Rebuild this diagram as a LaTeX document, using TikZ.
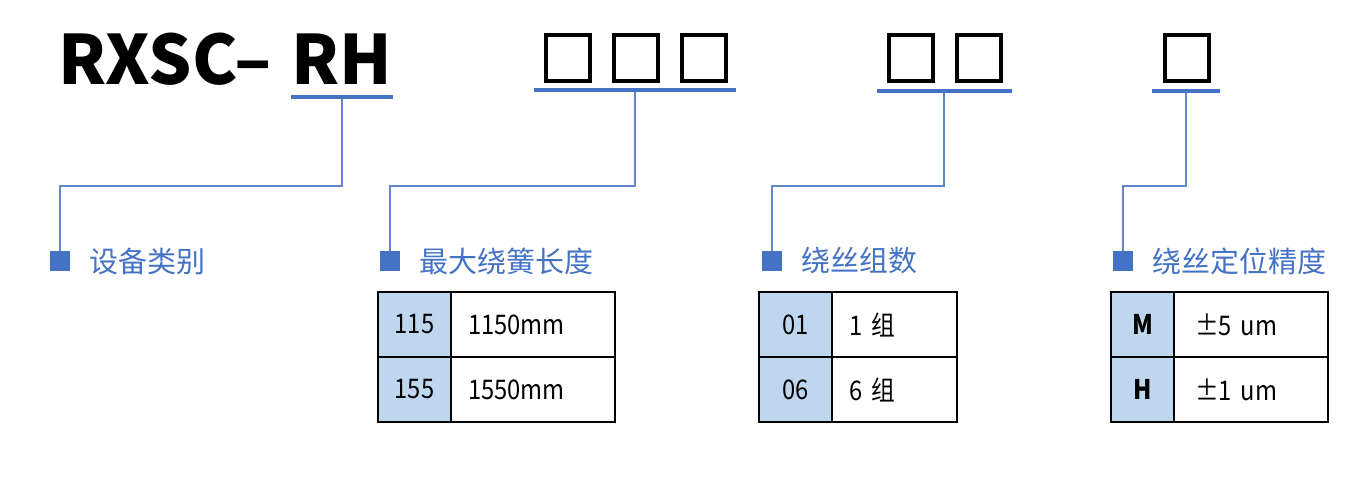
\documentclass[tikz,border=0pt]{standalone}
\usepackage{fontspec}
\usepackage{tikz}
\usetikzlibrary{positioning,calc}
\newfontfamily\cjk{Noto Sans CJK SC}
\newfontfamily\cjknarrow{Noto Sans CJK SC}[FakeStretch=0.88]
\definecolor{ublue}{RGB}{68,114,196}
\definecolor{keyfill}{RGB}{190,215,238}

\begin{document}
\begin{tikzpicture}[
    x=1pt, y=-1pt,
    node distance=0pt,
    sq/.style={draw, line width=4pt, minimum width=44pt, minimum height=46pt},
    uline/.style={fill=ublue, inner sep=0pt, minimum height=3.5pt},
    conn/.style={draw=ublue!85, line width=1.5pt},
    bullet/.style={fill=ublue, minimum size=20pt, inner sep=0pt},
    lbl/.style={text=ublue, font=\cjk\fontsize{29}{32}\selectfont, inner sep=0pt},
    keycell/.style={draw, line width=1.2pt, fill=keyfill, minimum height=65pt, outer sep=0pt, font=\cjknarrow\fontsize{27}{30}\selectfont},
    valcell/.style={draw, line width=1.2pt, minimum height=65pt, outer sep=0pt, align=left, inner xsep=17pt, font=\cjknarrow\fontsize{27}{30}\selectfont}
]
    \useasboundingbox (0,0) rectangle (1369,481);

    % model code
    \node [anchor=base west, inner sep=0pt, font=\cjk\bfseries\fontsize{68}{72}\selectfont] (title) at (58,85) {RXSC–\kern4pt{} RH};
    \node [sq] (s1) at (568,58) {};
    \node [sq, right=20pt of s1] (s2) {};
    \node [sq, right=20pt of s2] (s3) {};
    \node [sq] (s4) at (911,58) {};
    \node [sq, right=20pt of s4] (s5) {};
    \node [sq] (s6) at (1187,58) {};

    % underlines
    \node [uline, minimum width=102pt] (uRH) at (342,97) {};
    \node [uline, minimum width=202pt] (uLen) at (635,90) {};
    \node [uline, minimum width=135pt] (uGrp) at (944,91) {};
    \node [uline, minimum width=68pt] (uAcc) at (1186,91) {};

    % headings
    \node [bullet] (bA) at (60,261) {};
    \node [bullet] (bB) at (390,261) {};
    \node [bullet] (bC) at (772,261) {};
    \node [bullet] (bD) at (1123,261) {};
    \node [lbl, right=19pt of bA] (lA) {设备类别};
    \node [lbl, right=19pt of bB] (lB) {最大绕簧长度};
    \node [lbl, right=19pt of bC] (lC) {绕丝组数};
    \node [lbl, right=19pt of bD] (lD) {绕丝定位精度};

    % leader lines
    \coordinate (hy) at (0,186);
    \draw [conn] (uRH.south) -- (uRH.south |- hy) -| (bA.north);
    \draw [conn] (uLen.south) -- (uLen.south |- hy) -| (bB.north);
    \draw [conn] (uGrp.south) -- (uGrp.south |- hy) -| (bC.north);
    \draw [conn] (uAcc.south) -- (uAcc.south |- hy) -| (bD.north);

    % length table
    \node [keycell, minimum width=73pt, anchor=north west] (k1a) at (378,292) {115};
    \node [valcell, text width=130pt, right=of k1a] (v1a) {1150mm};
    \node [keycell, minimum width=73pt, below=of k1a] (k1b) {155};
    \node [valcell, text width=130pt, right=of k1b] (v1b) {1550mm};

    % group table
    \node [keycell, minimum width=73pt, anchor=north west] (k2a) at (759,292) {01};
    \node [valcell, text width=91pt, right=of k2a] (v2a) {1 组};
    \node [keycell, minimum width=73pt, below=of k2a] (k2b) {06};
    \node [valcell, text width=91pt, right=of k2b] (v2b) {6 组};

    % accuracy table
    \node [keycell, minimum width=63pt, anchor=north west] (k3a) at (1111,292) {\bfseries M};
    \node [valcell, text width=112pt, inner xsep=21pt, right=of k3a] (v3a) {±5 um};
    \node [keycell, minimum width=63pt, below=of k3a] (k3b) {\bfseries H};
    \node [valcell, text width=112pt, inner xsep=21pt, right=of k3b] (v3b) {±1 um};
\end{tikzpicture}
\end{document}
